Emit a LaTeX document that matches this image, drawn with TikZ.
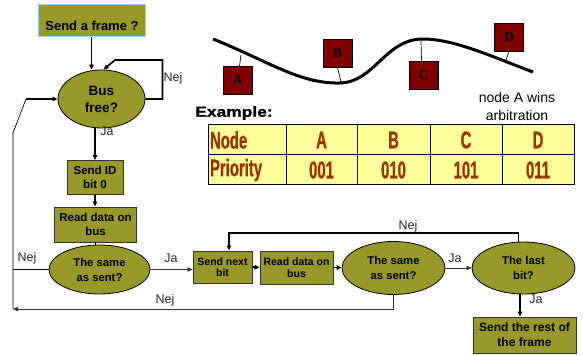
\documentclass[tikz,border=0pt]{standalone}
\usepackage{fontspec}
\setmainfont{Liberation Sans}
\newfontfamily\narrowbf[FakeStretch=0.62,FakeBold=0.8]{Liberation Sans Bold}
\newfontfamily\heavyfont[FakeStretch=1.2,FakeBold=1.5]{Liberation Sans Bold}
\newfontfamily\letterfont{Liberation Serif Bold}
\usetikzlibrary{arrows.meta,shapes.geometric,shadows}
\definecolor{flowolive}{RGB}{153,153,41}
\definecolor{framecol}{RGB}{150,210,235}
\definecolor{busred}{RGB}{128,0,0}
\definecolor{tabyellow}{RGB}{255,255,153}
\definecolor{tabtext}{RGB}{153,51,0}
\begin{document}
\begin{tikzpicture}[x=1pt,y=-1pt,
  box/.style={draw=black!80,line width=0.9pt,fill=flowolive,inner sep=0pt,align=center,
    font=\bfseries\fontsize{11.5}{14}\selectfont},
  shbox/.style={box,drop shadow={shadow xshift=1.4pt,shadow yshift=-1.4pt,fill=black,opacity=1}},
  decision/.style={ellipse,draw=black,line width=0.8pt,fill=flowolive,inner sep=0pt,align=center,
    font=\bfseries\fontsize{11.3}{15}\selectfont},
  tip/.style={-{Triangle[length=5pt,width=4.5pt]}},
  flow/.style={line width=1.7pt,tip},
  thinflow/.style={line width=0.7pt,draw=black!80,tip},
  lbl/.style={font=\fontsize{12.5}{14}\selectfont,text=black!85,inner sep=0pt},
  busnode/.style={draw=black,line width=0.8pt,fill=busred,minimum width=29pt,minimum height=28pt,
    inner sep=0pt,font=\letterfont\fontsize{13.5}{13.5}\selectfont},
  tap/.style={line width=0.7pt},
  cell/.style={draw=black,line width=1pt,fill=tabyellow,inner sep=0pt,minimum height=30pt,
    text=tabtext,font=\narrowbf\fontsize{24}{24}\selectfont},
  ]
\useasboundingbox (0,0) rectangle (583,355);

% ---------- flow chart ----------
\node[box,draw=framecol,line width=1pt,minimum width=107pt,minimum height=32pt] (start) at (91.5,21) {};
\node[font=\bfseries\fontsize{13}{15}\selectfont,inner sep=0pt] (starttxt) at (92,26) {Send a frame ?};
\node[decision,minimum width=87pt,minimum height=58pt,font=\bfseries\fontsize{13.5}{17}\selectfont] (bus) at (101.5,99) {Bus\\free?};

\node[box,minimum width=56pt,minimum height=34pt] (sendid) at (95,177.5) {Send ID\\bit 0};
\node[box,minimum width=82pt,minimum height=35pt] (read1) at (95.5,224.5) {Read data on\\bus};
\node[decision,minimum width=101pt,minimum height=49pt] (same1) at (99.5,269.5) {The same\\as sent?};

\node[shbox,minimum width=59pt,minimum height=32pt,font=\bfseries\fontsize{10.5}{11.5}\selectfont] (sendnext) at (222.5,267) {Send next\\bit};
\node[shbox,minimum width=73pt,minimum height=33pt,font=\bfseries\fontsize{10.5}{12.5}\selectfont] (read2) at (296.5,267.5) {Read data on\\bus};
\node[decision,minimum width=103pt,minimum height=53pt] (same2) at (393.5,268) {The same\\as sent?};
\node[decision,minimum width=103pt,minimum height=52pt] (last) at (523.5,268) {The last\\bit?};
\node[shbox,minimum width=103pt,minimum height=36pt,font=\bfseries\fontsize{12}{15}\selectfont] (rest) at (524.5,335) {Send the rest of\\the frame};

\coordinate (lb) at (13,309);
\coordinate (lt) at (13,133);
\coordinate (lk) at (26,99);

% connectors
\draw[flow] (start.south) -- (start.south |- bus.north);
\draw[flow] (bus.east) -- ++(17,0) |- (115,60) -- ([xshift=2pt]bus.north);
\node[lbl] (nej1) at (173,78) {Nej};
\draw[line width=0.7pt] (lb) -- (lt) -- (lk);
\draw[flow] (lk) -- (bus.west);
\draw[flow] (bus.south -| sendid.north) -- (sendid.north);
\node[lbl] (ja1) at (107,131) {Ja};
\draw[flow] (sendid.south) -- (sendid.south |- read1.north);
\draw[line width=1.5pt] (read1.south) -- (read1.south |- same1.north);
\draw[line width=1.8pt] (same1.west) -- (same1.west -| lb);
\node[lbl] (nej2) at (27,258) {Nej};
\draw[thinflow] (same1.east) -- (same1.east -| sendnext.west);
\node[lbl] (ja2) at (171,258) {Ja};
\draw[flow] (sendnext.east) -- (read2.west);
\draw[flow] (read2.east) -- (read2.east -| same2.west);
\draw[thinflow] (same2.east) -- (last.west);
\node[lbl] (ja3) at (455,258) {Ja};
\draw[flow] ([xshift=-5pt]last.north) |- (229,233) -- ([xshift=6.5pt]sendnext.north);
\node[lbl] (nej3) at (408,226) {Nej};
\draw[thinflow] (same2.south) -- (same2.south |- lb) -- (lb);
\node[lbl] (nej4) at (165,300) {Nej};
\draw[flow] ([xshift=-3.5pt]last.south) -- ([xshift=-3.5pt]last.south |- rest.north);
\node[lbl] (ja4) at (536,299) {Ja};

% ---------- bus line with stations ----------
\draw[line width=3pt] (213,39) .. controls (270,62) and (300,84) .. (340,83)
  .. controls (375,82) and (385,39) .. (423,39)
  .. controls (455,39) and (495,58) .. (533,72);
\node[busnode] (A) at (237.5,80.5) {A};
\node[busnode] (B) at (337.5,53) {B};
\node[busnode] (C) at (423.5,75) {C};
\node[busnode] (D) at (509,37) {D};
\coordinate (tA) at (241,55);
\coordinate (tB) at (341,82);
\coordinate (tC) at (421,41);
\coordinate (tD) at (506,60);
\draw[tap] ([xshift=2pt]A.north) -- (tA);
\draw[tap] (B.south) -- (tB);
\draw[tap] ([xshift=-2pt]C.north) -- (tC);
\draw[tap] (D.south) -- (tD);
\node[font=\fontsize{14}{18}\selectfont,align=center,inner sep=0pt] (wins) at (517,106) {node A wins\\arbitration};

% ---------- priority table ----------
\node[font=\heavyfont\fontsize{14.5}{16}\selectfont,inner sep=0pt] (example) at (234,113) {Example:};
\node[cell,minimum width=78pt,text width=74pt,align=left] (hn) at (247,140) {Node};
\node[cell,minimum width=71pt] (hA) at (321.5,140) {A};
\node[cell,minimum width=73pt] (hB) at (393.5,140) {B};
\node[cell,minimum width=72pt] (hC) at (466,140) {C};
\node[cell,minimum width=72pt] (hD) at (538,140) {D};
\node[cell,minimum width=78pt,text width=74pt,align=left] (pn) at (247,170) {Priority};
\node[cell,minimum width=71pt] (pA) at (321.5,170) {001};
\node[cell,minimum width=73pt] (pB) at (393.5,170) {010};
\node[cell,minimum width=72pt] (pC) at (466,170) {101};
\node[cell,minimum width=72pt] (pD) at (538,170) {011};
\end{tikzpicture}
\end{document}
